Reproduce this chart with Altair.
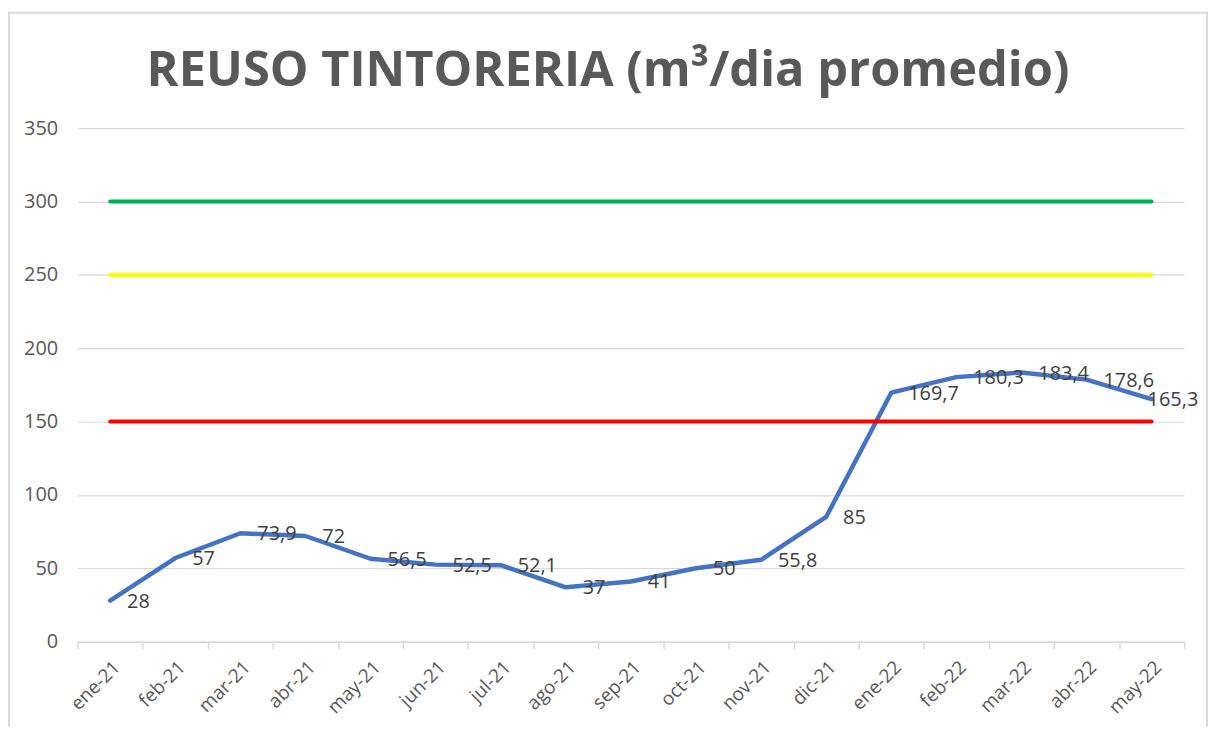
import altair as alt
import pandas as pd

months = ["ene-21", "feb-21", "mar-21", "abr-21", "may-21", "jun-21", "jul-21", "ago-21",
          "sep-21", "oct-21", "nov-21", "dic-21", "ene-22", "feb-22", "mar-22", "abr-22", "may-22"]
reuso = [28, 57, 73.9, 72, 56.5, 52.5, 52.1, 37, 41, 50, 55.8, 85, 169.7, 180.3, 183.4, 178.6, 165.3]
value_labels = ["28", "57", "73,9", "72", "56,5", "52,5", "52,1", "37", "41", "50", "55,8", "85",
                "169,7", "180,3", "183,4", "178,6", "165,3"]
threshold_names = ["Óptimo", "Aceptable", "Mínimo"]
threshold_values = [300, 250, 150]
threshold_colors = ["#00B050", "#FFFF00", "#FF0000"]
y_ticks = [0, 50, 100, 150, 200, 250, 300, 350]
title_text = "REUSO TINTORERIA (m³/dia promedio)"

df = pd.DataFrame({"mes": months, "valor": reuso, "etiqueta": value_labels})
df["ultimo"] = [i == len(months) - 1 for i in range(len(months))]
thr = pd.DataFrame([
    {"mes": m, "serie": n, "valor": v}
    for n, v in zip(threshold_names, threshold_values) for m in months
])

FONT = "Open Sans"
GRAY = "#595959"

x_enc = alt.X(
    "mes:N", sort=months, title=None,
    scale=alt.Scale(type="band", paddingInner=0, paddingOuter=0),
    axis=alt.Axis(tickBand="extent", labelAngle=-45, labelFontSize=19, labelColor=GRAY,
                  labelFont=FONT, domainColor="#d9d9d9", domainWidth=1.5, tickColor="#d9d9d9",
                  tickWidth=1.5, tickSize=7, labelPadding=9, grid=False),
)
y_enc = alt.Y(
    "valor:Q", title=None,
    scale=alt.Scale(domain=[0, 350]),
    axis=alt.Axis(values=y_ticks, grid=True, gridColor="#d9d9d9", gridWidth=1.2, domain=False,
                  ticks=False, labelPadding=20, labelFontSize=20, labelColor=GRAY, labelFont=FONT),
)

frame = alt.Chart(pd.DataFrame({"a": [0]})).mark_rect(
    fill=None, stroke="#d9d9d9", strokeWidth=2
).encode(x=alt.value(-69), x2=alt.value(1135), y=alt.value(-116), y2=alt.value(640))

title = alt.Chart(pd.DataFrame({"t": [title_text]})).mark_text(
    font=FONT, fontSize=49, fontWeight="bold", color=GRAY, align="center", baseline="alphabetic"
).encode(x=alt.value(533), y=alt.value(-42), text="t:N")

line = alt.Chart(df).mark_line(color="#4472C4", strokeWidth=4.5, strokeJoin="round",
                               strokeCap="round").encode(x=x_enc, y=y_enc)

thr_lines = alt.Chart(thr).mark_line(strokeWidth=4, strokeCap="round").encode(
    x=x_enc, y=y_enc,
    color=alt.Color("serie:N", scale=alt.Scale(domain=threshold_names, range=threshold_colors),
                    legend=None),
    detail="serie:N",
)

text_main = alt.Chart(df).transform_filter("!datum.ultimo").mark_text(
    align="left", baseline="middle", dx=17, dy=1, fontSize=20, font=FONT, color="#404040"
).encode(x=x_enc, y=y_enc, text="etiqueta:N")

text_last = alt.Chart(df).transform_filter("datum.ultimo").mark_text(
    align="left", baseline="middle", dx=-4, dy=1, fontSize=20, font=FONT, color="#404040"
).encode(x=x_enc, y=y_enc, text="etiqueta:N")

chart = alt.layer(frame, title, line, thr_lines, text_main, text_last).properties(
    width=1112, height=516,
    autosize=alt.AutoSizeParams(type="none"),
    padding={"left": 70, "top": 119, "right": 27, "bottom": 84},
).configure_view(stroke=None)

chart.save("out.html", embed_options={"renderer": "svg", "actions": False})
